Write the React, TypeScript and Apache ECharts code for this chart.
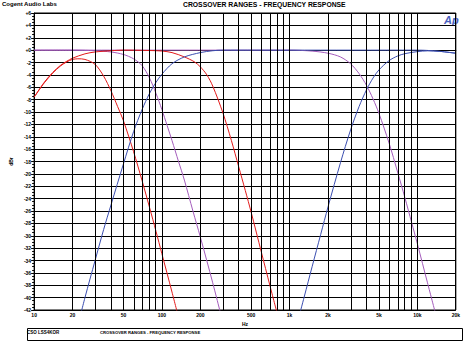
import React, { useEffect, useRef } from 'react';
import * as echarts from 'echarts';

// X axis (frequency, Hz) – labelled ticks and log grid lines
const xTickFreqs = [10, 20, 50, 100, 200, 500, 1000, 2000, 5000, 10000, 20000];
const xTickLabels = ['10', '20', '50', '100', '200', '500', '1k', '2k', '5k', '10k', '20k'];
const xGridFreqs = [
  20, 30, 40, 50, 60, 70, 80, 90, 100,
  200, 300, 400, 500, 600, 700, 800, 900, 1000,
  2000, 3000, 4000, 5000, 6000, 7000, 8000, 9000, 10000,
  20000,
];

// Y axis (dB)
const yMin = -42;
const yMax = 6;
const yStep = 2;

// Curves: [frequency Hz, level dB]
const purpleHigh: [number, number][] = [
  [10, 0], [500, 0], [1000, 0], [1500, -0.16], [2000, -0.5], [2500, -1.1], [3000, -2.2], [3500, -3.8],
  [4000, -5.7], [4500, -7.9], [5000, -10.2], [6000, -15], [7000, -19.7], [8000, -23.9], [9000, -27.8],
  [10000, -31.3], [12000, -37.6], [14000, -42.9],
];
const purpleLow: [number, number][] = [
  [10, 0], [20, 0], [30, -0.1], [40, -0.3], [50, -0.7], [60, -1.4], [70, -2.5], [80, -4.5],
  [90, -7.0], [100, -9.6], [110, -12.2], [120, -14.6], [135, -18], [150, -21], [175, -26],
  [200, -30.2], [250, -37.6], [300, -44],
];
const redNarrow: [number, number][] = [
  [10, -7.6], [12, -5.3], [14, -3.7], [16, -2.6], [18, -1.9], [20, -1.5], [22, -1.4], [25, -1.5],
  [30, -2.3], [35, -4.2], [40, -6.6], [45, -9.1], [50, -11.4], [60, -16.4], [70, -21.1], [80, -25.4],
  [90, -29.3], [100, -32.9], [120, -39.1], [135, -43.2],
];
const redWide: [number, number][] = [
  [10, -7.6], [12, -5.2], [14, -3.6], [16, -2.5], [18, -1.8], [20, -1.3], [25, -0.6], [30, -0.3],
  [40, -0.1], [50, 0], [75, -0.05], [100, -0.15], [120, -0.4], [150, -1.1], [180, -1.9], [200, -2.7],
  [225, -4.0], [250, -5.8], [300, -10.1], [350, -14.6], [400, -18.9], [450, -22.7], [500, -26.2],
  [600, -32.6], [700, -38.0], [800, -42.6],
];
const blueHigh: [number, number][] = [
  [1180, -43.2], [1300, -39.9], [1500, -35], [1750, -29.8], [2000, -25.3], [2500, -18.2], [3000, -12.9],
  [3500, -9.1], [4000, -6.4], [4500, -4.5], [5000, -3.2], [6000, -1.7], [7000, -0.95],
  [8000, -0.57], [10000, -0.24], [12000, -0.12], [15000, -0.2], [20000, -0.5],
];
const blueLow: [number, number][] = [
  [22, -44.5], [25, -40], [30, -34], [35, -29], [40, -25], [50, -18.4], [60, -13.2], [70, -9.6],
  [80, -7.0], [90, -5.2], [100, -3.9], [120, -2.2], [150, -1.1], [200, -0.4], [250, -0.1], [300, 0],
  [1000, 0], [10000, 0], [12000, -0.05], [15000, -0.2], [20000, -0.5],
];

const RED = '#e31b1b';
const PURPLE = '#a45cbc';
const BLUE = '#3b4eb0';
const FONT = '"Liberation Sans", Arial, sans-serif';

const toXY = (c: [number, number][]) => c.map(([f, db]) => [Math.log10(f), db]);

export default function App() {
  const ref = useRef<HTMLDivElement>(null);
  useEffect(() => {
    if (!ref.current) return;
    const chart = echarts.init(ref.current, null, { renderer: 'svg' });
    const curve = (name: string, data: [number, number][], color: string) => ({
      name,
      type: 'line',
      data: toXY(data),
      showSymbol: false,
      symbol: 'none',
      smooth: 0.3,
      clip: true,
      z: 3,
      lineStyle: { color, width: 1 },
      emphasis: { disabled: true },
      silent: true,
    });
    chart.setOption({
      animation: false,
      grid: {
        left: 27, right: 5, top: 13, bottom: 31,
        show: true, borderColor: '#000', borderWidth: 1,
      },
      xAxis: {
        type: 'value',
        min: Math.log10(10),
        max: Math.log10(20000),
        name: 'Hz',
        nameLocation: 'middle',
        nameGap: 9,
        nameTextStyle: { fontSize: 5, fontWeight: 'bold', fontFamily: FONT, color: '#000' },
        axisLine: { show: true, lineStyle: { color: '#000', width: 1 } },
        axisTick: { show: false },
        splitLine: { show: false },
        axisLabel: {
          customValues: xTickFreqs.map((f) => Math.log10(f)),
          formatter: (v: number) => {
            const i = xTickFreqs.findIndex((f) => Math.abs(Math.log10(f) - v) < 1e-6);
            return i >= 0 ? xTickLabels[i] : '';
          },
          fontSize: 5,
          fontWeight: 'bold',
          fontFamily: FONT,
          color: '#000',
          margin: 2,
        },
      },
      yAxis: {
        type: 'value',
        min: yMin,
        max: yMax,
        interval: yStep,
        name: 'dBr',
        nameLocation: 'middle',
        nameRotate: 90,
        nameGap: 21,
        nameTextStyle: { fontSize: 5, fontWeight: 'bold', fontFamily: FONT, color: '#000' },
        axisLine: { show: true, lineStyle: { color: '#000', width: 1 } },
        axisTick: { show: true, length: 3, lineStyle: { color: '#000' } },
        minorTick: { show: true, splitNumber: 4, length: 2, lineStyle: { color: '#000' } },
        splitLine: { show: true, lineStyle: { color: '#000', width: 1 } },
        axisLabel: {
          formatter: (v: number) => (v > 0 ? `+${v}` : v === 0 ? '+0' : `${v}`),
          fontSize: 5,
          fontWeight: 'bold',
          fontFamily: FONT,
          color: '#000',
          margin: 3,
        },
      },
      series: [
        {
          name: 'grid',
          type: 'line',
          data: [],
          z: 1,
          silent: true,
          markLine: {
            silent: true,
            symbol: ['none', 'none'],
            label: { show: false },
            emphasis: { disabled: true },
            lineStyle: { color: '#000', width: 1, type: 'solid' },
            data: xGridFreqs.map((f) => ({ xAxis: Math.log10(f) })),
          },
        },
        curve('purpleHigh', purpleHigh, PURPLE),
        curve('purpleLow', purpleLow, PURPLE),
        curve('redNarrow', redNarrow, RED),
        curve('redWide', redWide, RED),
        curve('blueHigh', blueHigh, BLUE),
        curve('blueLow', blueLow, BLUE),
      ],
      graphic: [
        {
          type: 'text', left: 2, top: 1,
          style: { text: 'Cogent Audio Labs', fontSize: 6, fontWeight: 'bold', fontFamily: FONT, fill: '#000' },
        },
        {
          type: 'text', left: 183, top: 1,
          style: { text: 'CROSSOVER RANGES - FREQUENCY RESPONSE', fontSize: 6.8, fontWeight: 'bold', fontFamily: FONT, fill: '#000' },
        },
        {
          type: 'text', left: 444, top: 14,
          style: { text: 'Ap', fontSize: 11, fontWeight: 'bold', fontStyle: 'italic', fontFamily: FONT, fill: '#4a5fc0' },
        },
        {
          type: 'rect', left: 25, top: 326,
          shape: { width: 435, height: 12 },
          style: { fill: 'none', stroke: '#000', lineWidth: 1 },
        },
        {
          type: 'text', left: 27, top: 330,
          style: { text: 'CSO LSS4KOR', fontSize: 4.5, fontWeight: 'bold', fontFamily: FONT, fill: '#000' },
        },
        {
          type: 'text', left: 100, top: 330,
          style: { text: 'CROSSOVER RANGES - FREQUENCY RESPONSE', fontSize: 4.2, fontWeight: 'bold', fontFamily: FONT, fill: '#000' },
        },
      ],
    });
    return () => chart.dispose();
  }, []);
  return (
    <div
      ref={ref}
      style={{ position: 'fixed', left: 0, top: 0, width: 463, height: 341, background: '#fff' }}
    />
  );
}
